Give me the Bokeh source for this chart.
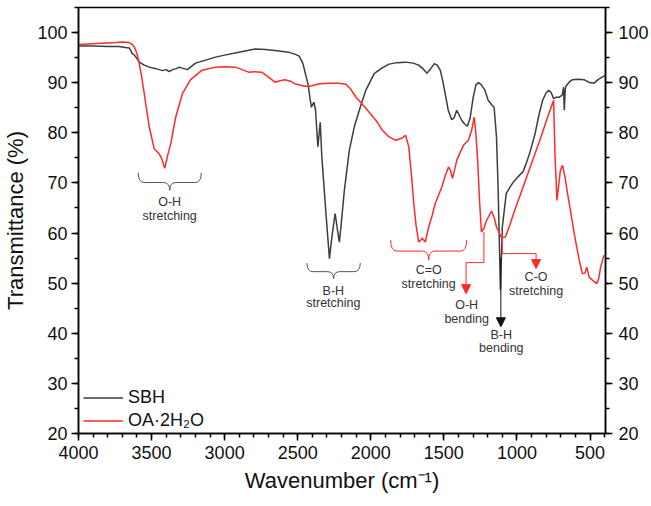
from bokeh.plotting import figure
from bokeh.models import (Range1d, LinearAxis, SingleIntervalTicker, Legend, LegendItem,
                          Arrow, NormalHead)
from bokeh.core.properties import value
from bokeh.embed import file_html
from bokeh.resources import INLINE

# ---------------- data ----------------
sbh_x = [4000, 3900, 3800, 3722, 3680, 3652, 3640, 3633, 3620, 3600, 3584, 3550, 3516, 3470, 3425,
         3400, 3380, 3357, 3330, 3312, 3290, 3255, 3230, 3199, 3130, 3063, 3000, 2928, 2860, 2792,
         2720, 2656, 2600, 2554, 2520, 2490, 2464, 2441, 2430, 2407, 2389, 2378, 2362, 2346, 2335,
         2305, 2283, 2265, 2244, 2230, 2215, 2200, 2181, 2147, 2113, 2068, 2034, 2011, 1977, 1930,
         1875, 1820, 1762, 1710, 1672, 1640, 1616, 1590, 1565, 1545, 1525, 1505, 1491, 1470, 1446,
         1430, 1412, 1395, 1378, 1360, 1339, 1320, 1299, 1280, 1262, 1245, 1219, 1197, 1170, 1156,
         1140, 1129, 1113, 1100, 1073, 1040, 1016, 990, 959, 935, 914, 876, 850, 824, 800,
         783, 765, 749, 730, 710, 690, 681, 676, 670, 665, 640, 620, 580, 541, 510,
         473, 440, 405, 396]
sbh_y = [97.3, 97.3, 97.2, 97.2, 97.0, 96.9, 96.3, 95.8, 95.6, 94.8, 94.1, 93.5, 93.1, 92.8, 92.4,
         92.6, 92.2, 92.6, 92.8, 93.1, 92.9, 92.6, 93.2, 93.9, 94.5, 95.1, 95.5, 95.9, 96.3, 96.7,
         96.6, 96.4, 96.2, 96.0, 95.7, 95.3, 93.8, 91.0, 89.8, 85.1, 86.1, 84.5, 77.2, 82.1, 75.2,
         63.2, 54.9, 59.5, 63.9, 61.0, 58.2, 62.5, 68.5, 76.5, 81.2, 85.5, 88.5, 89.8, 91.8, 92.8,
         93.7, 94.0, 94.1, 93.9, 93.5, 92.7, 91.9, 92.8, 93.8, 93.5, 92.5, 90.0, 87.8, 84.5, 82.6,
         83.0, 84.5, 83.5, 82.5, 81.8, 81.3, 83.0, 87.1, 89.6, 90.0, 89.6, 88.5, 86.5, 85.5, 85.1,
         79.2, 69.2, 48.6, 61.2, 67.9, 69.5, 70.5, 71.3, 72.2, 74.0, 75.8, 79.8, 83.5, 86.5, 88.0,
         88.5, 88.0, 86.8, 87.1, 87.1, 87.5, 89.1, 84.5, 88.5, 89.3, 90.2, 90.6, 90.7, 90.6, 90.1,
         89.9, 90.7, 91.3, 91.4]

oa_x = [4000, 3991, 3878, 3742, 3700, 3652, 3630, 3618, 3600, 3584, 3567, 3550, 3516, 3482, 3448,
        3430, 3410, 3390, 3369, 3335, 3289, 3233, 3154, 3063, 3000, 2928, 2880, 2837, 2800, 2746,
        2700, 2656, 2620, 2588, 2550, 2520, 2452, 2418, 2350, 2283, 2220, 2170, 2140, 2101, 2060,
        2011, 1960, 1921, 1880, 1830, 1790, 1762, 1740, 1720, 1706, 1690, 1672, 1660, 1649, 1638,
        1627, 1604, 1580, 1559, 1514, 1490, 1468, 1455, 1441, 1425, 1412, 1390, 1366, 1332, 1310,
        1292, 1280, 1269, 1255, 1243, 1225, 1208, 1174, 1155, 1140, 1106, 1079, 1050, 1016, 970,
        925, 880, 835, 795, 749, 740, 726, 703, 688, 670, 654, 630, 608, 574, 552,
        535, 522, 506, 480, 454, 440, 427, 405]
oa_y = [97.5, 97.6, 97.8, 98.0, 98.1, 98.0, 97.6, 97.1, 95.8, 93.8, 91.0, 87.8, 81.2, 76.8, 75.8,
        74.8, 72.9, 75.5, 77.8, 83.1, 87.8, 90.6, 92.5, 93.1, 93.2, 93.1, 92.6, 92.1, 92.2, 92.1,
        91.1, 90.1, 90.4, 90.6, 90.3, 89.8, 89.3, 89.3, 89.8, 89.9, 89.9, 89.7, 88.8, 87.1, 85.8,
        84.1, 82.3, 80.5, 79.3, 78.5, 78.9, 79.5, 77.2, 71.0, 65.9, 61.5, 58.2, 58.5, 59.0, 58.6,
        58.2, 61.2, 63.5, 65.9, 69.2, 71.5, 73.2, 72.5, 70.9, 72.8, 74.5, 76.0, 77.5, 78.5, 80.5,
        83.1, 79.5, 74.5, 66.0, 60.2, 61.0, 62.5, 64.4, 63.0, 61.2, 59.1, 59.2, 61.5, 64.5, 68.2,
        71.9, 75.5, 79.2, 82.7, 86.5, 75.8, 66.5, 72.5, 73.5, 71.0, 67.9, 63.8, 59.9, 54.6, 51.9,
        52.0, 53.2, 51.2, 50.5, 49.9, 51.0, 53.2, 55.6]

series_names = ["SBH", "OA\u00b72H\u2082O"]

# annotation braces: left x, right x, top y, tip y
brace_x0 = [3591, 2437, 1864]
brace_x1 = [3160, 2072, 1344]
brace_top = [72.0, 54.0, 58.6]
brace_tip = [68.5, 50.9, 54.6]
brace_col = ["#555555", "#555555", "#ff2a2a"]

# annotation texts
ann_text = ["O-H", "stretching", "B-H", "stretching", "C=O", "stretching",
            "O-H", "bending", "B-H", "bending", "C-O", "stretching"]
ann_x = [3376, 3376, 2256, 2256, 1604, 1604, 1344, 1344, 1107, 1107, 869, 869]
ann_y = [66.1, 63.3, 48.4, 46.0, 52.6, 49.9, 45.6, 42.9, 39.6, 37.0, 51.2, 48.4]

# elbow leader lines (x path, y path) and arrow ends
lead_xs = [[1226, 1226, 1348], [1100, 1100, 869]]
lead_ys = [[60.2, 54.1, 54.1], [59.1, 55.9, 55.9]]
arrow_x = [1348, 1110, 869]
arrow_y0 = [54.1, 55.0, 55.9]
arrow_y1 = [47.9, 41.3, 52.9]
arrow_col = ["#ff2a2a", "#111111", "#ff2a2a"]

BLACK = "#3d3d3d"
RED = "#ff2a2a"
FONT = "Liberation Sans"

p = figure(width=651, height=506, output_backend="svg", toolbar_location=None,
           x_range=Range1d(4000, 394), y_range=Range1d(20, 105),
           min_border_left=78, min_border_right=43, min_border_top=7, min_border_bottom=73)
p.grid.visible = False
p.outline_line_color = "black"
p.outline_line_width = 1.5
p.background_fill_color = "white"
p.border_fill_color = "white"

r1 = p.line(sbh_x, sbh_y, line_color=BLACK, line_width=1.5)
r2 = p.line(oa_x, oa_y, line_color=RED, line_width=1.5)

# braces (underbrace shape: ends curl up, centre points down)
for x0, x1, yt, yb, c in zip(brace_x0, brace_x1, brace_top, brace_tip, brace_col):
    xc = (x0 + x1) / 2
    ym = yb + 0.45 * (yt - yb)
    d = 42
    p.quadratic(x0=[x0, xc + d, xc - d, x1], y0=[yt, ym, ym, yt],
                x1=[x0 - d, xc, xc, x1 + d], y1=[ym, yb, yb, ym],
                cx=[x0, xc, xc, x1], cy=[ym, ym, ym, ym], line_color=c, line_width=1)
    p.segment(x0=[x0 - d, xc - d], y0=[ym, ym], x1=[xc + d, x1 + d], y1=[ym, ym],
              line_color=c, line_width=1)

p.multi_line(xs=lead_xs, ys=lead_ys, line_color=RED, line_width=1)
for ax, a0, a1, c in zip(arrow_x, arrow_y0, arrow_y1, arrow_col):
    p.add_layout(Arrow(x_start=ax, y_start=a0, x_end=ax, y_end=a1, line_color=c, line_width=1,
                       end=NormalHead(size=9, fill_color=c, line_color=c, line_width=1)))

p.text(x=ann_x, y=ann_y, text=ann_text, text_font=value(FONT), text_font_size="12.5px",
       text_align="center", text_baseline="middle", text_color="#333333")

# axes
def style_axis(ax, interval, minor):
    ax.ticker = SingleIntervalTicker(interval=interval, num_minor_ticks=minor)
    ax.axis_line_width = 1.5
    ax.major_tick_line_width = 1.5
    ax.minor_tick_line_width = 1.5
    ax.major_tick_in = 0
    ax.major_tick_out = 7
    ax.minor_tick_in = 0
    ax.minor_tick_out = 4
    ax.major_label_text_font = FONT
    ax.major_label_text_font_size = "18px"
    ax.major_label_text_color = "#111111"
    ax.axis_label_text_font = FONT
    ax.axis_label_text_font_size = "22px"
    ax.axis_label_text_font_style = "normal"
    ax.axis_label_text_color = "#111111"

style_axis(p.xaxis[0], 500, 5)
p.xaxis[0].axis_label = "Wavenumber (cm\u207b\u00b9)"
p.xaxis[0].major_label_standoff = 5
p.xaxis[0].axis_label_standoff = 6
style_axis(p.yaxis[0], 10, 2)
p.yaxis[0].axis_label = "Transmittance (%)"
p.yaxis[0].major_label_standoff = 4
p.yaxis[0].axis_label_standoff = 6

ry = LinearAxis()
style_axis(ry, 10, 2)
ry.major_label_standoff = 6
p.add_layout(ry, "right")

legend = Legend(items=[LegendItem(label=series_names[0], renderers=[r1]),
                       LegendItem(label=series_names[1], renderers=[r2])],
                location=(5, 1), padding=0, margin=0, spacing=0,
                glyph_width=40, glyph_height=23, label_height=23, label_standoff=5,
                label_text_font=FONT, label_text_font_size="18px", label_text_color="#111111",
                border_line_alpha=0, background_fill_alpha=0)
p.add_layout(legend)

open("out.html", "w").write(file_html(p, INLINE))
